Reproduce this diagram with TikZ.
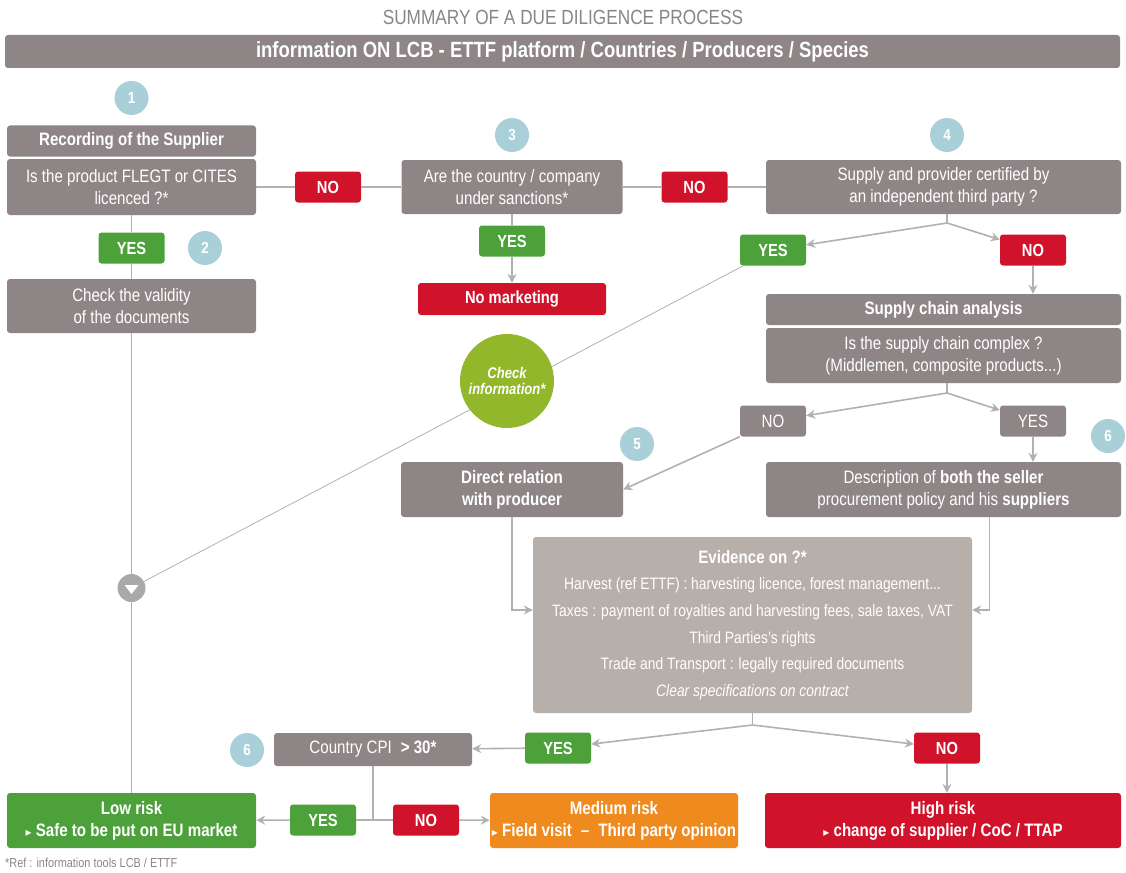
\documentclass[tikz,border=0pt]{standalone}
\usepackage{fontspec}
\setmainfont{Liberation Sans}[FakeStretch=0.84]
\newfontfamily\symfont{DejaVu Sans}
\usetikzlibrary{calc,arrows.meta}

\definecolor{boxgray}{HTML}{8E8686}
\definecolor{evidgray}{HTML}{B7AFAA}
\definecolor{nored}{HTML}{D0122A}
\definecolor{yesgreen}{HTML}{4CA13A}
\definecolor{medorange}{HTML}{EE8A1E}
\definecolor{checkgreen}{HTML}{93B72B}
\definecolor{numblue}{HTML}{A9CFD8}
\definecolor{linegray}{HTML}{B2B0B0}
\definecolor{titlegray}{HTML}{8A8585}
\definecolor{markgray}{HTML}{ABA8A8}

\tikzset{
	base/.style={rounded corners=3pt, text=white, align=center, inner sep=0pt, font=\fontsize{18}{22}\selectfont},
	graybox/.style={base, fill=boxgray},
	boldbox/.style={graybox, font=\fontsize{18}{22}\selectfont\bfseries},
	yesbox/.style={base, fill=yesgreen, minimum width=66, minimum height=31, font=\fontsize{17.5}{22}\selectfont\bfseries},
	nobox/.style={yesbox, fill=nored},
	riskbox/.style={base, minimum height=55, font=\fontsize{18}{22}\selectfont\bfseries},
	numcirc/.style={circle, fill=numblue, text=white, minimum size=34, inner sep=0pt, font=\fontsize{16}{16}\selectfont\bfseries},
	conn/.style={draw=linegray, line width=1.6pt},
	arr/.style={conn, -{Stealth[length=9pt, width=9pt, inset=3pt]}},
	thinline/.style={draw=linegray, line width=0.8pt}
}

\newcommand{\tri}{{\symfont\fontsize{12}{12}\selectfont ▸}}

\begin{document}
\begin{tikzpicture}[x=1pt, y=-1pt]
		%%%%% START %%%%%
		\useasboundingbox (0,0) rectangle (1126,872);
		
		\node[text=titlegray, font=\fontsize{20.5}{20.5}\selectfont] (title) at (563,17) {SUMMARY OF A DUE DILIGENCE PROCESS};
		\node[boldbox, minimum width=1115, minimum height=33, font=\fontsize{22}{22}\selectfont\bfseries] (info) at (562.5,51.5) {information ON LCB - ETTF platform / Countries / Producers / Species};
		
		% step 1 and 2
		\node[numcirc] (n1) at (131.5,98) {1};
		\node[boldbox, minimum width=249, minimum height=31] (rec) at (131.5,141) {Recording of the Supplier};
		\node[graybox, minimum width=249, minimum height=56] (q1) at (131.5,187) {Is the product FLEGT or CITES\\licenced ?*};
		\node[yesbox] (yes1) at (131.5,248) {YES};
		\node[numcirc] (n2) at (205,248) {2};
		\node[graybox, minimum width=249, minimum height=54] (val) at (131.5,306) {Check the validity\\of the documents};
		
		% step 3
		\node[nobox] (no1) at (328,187) {NO};
		\node[numcirc] (n3) at (512,135) {3};
		\node[graybox, minimum width=221, minimum height=54] (q3) at (512,187) {Are the country / company\\under sanctions*};
		\node[yesbox] (yes3) at (512,241) {YES};
		\node[nobox, minimum width=188, minimum height=32] (nomkt) at (512,299) {No marketing};
		
		% step 4
		\node[nobox] (no3) at (694.5,187) {NO};
		\node[numcirc] (n4) at (947,135) {4};
		\node[graybox, minimum width=355, minimum height=54] (q4) at (943.5,187) {Supply and provider certified by\\an independent third party ?};
		\node[yesbox] (yes4) at (773,250) {YES};
		\node[nobox] (no4) at (1033,250) {NO};
		\node[boldbox, minimum width=355, minimum height=31] (sca) at (943.5,309.5) {Supply chain analysis};
		\node[graybox, minimum width=355, minimum height=55] (q5) at (943.5,355.5) {Is the supply chain complex ?\\(Middlemen, composite products...)};
		
		% step 5 and 6
		\node[graybox, minimum width=66, minimum height=31] (no5) at (773,421) {NO};
		\node[graybox, minimum width=66, minimum height=31] (yes5) at (1033,421) {YES};
		\node[numcirc] (n5) at (637,444) {5};
		\node[numcirc] (n6a) at (1108,436) {6};
		\node[boldbox, minimum width=222, minimum height=55] (direct) at (512,489.5) {Direct relation\\with producer};
		\node[graybox, minimum width=355, minimum height=55] (desc) at (943.5,489.5) {Description of \textbf{both the seller}\\procurement policy and his \textbf{suppliers}};
		
		\node[base, fill=evidgray, minimum width=439, minimum height=176, font=\fontsize{16.5}{26.6}\selectfont] (evid) at (752.5,625) {{\fontsize{18}{26.6}\selectfont\bfseries Evidence on ?*}\\
			Harvest (ref ETTF) : harvesting licence, forest management...\\
			Taxes : payment of royalties and harvesting fees, sale taxes, VAT\\
			Third Parties's rights\\
			Trade and Transport : legally required documents\\
			{\itshape Clear specifications on contract}};
		
		% bottom
		\node[yesbox] (yes6) at (558,748) {YES};
		\node[nobox] (no6) at (947,748) {NO};
		\node[graybox, minimum width=198, minimum height=33] (cpi) at (373,749.5) {Country CPI\enspace\textbf{> 30*}};
		\node[numcirc] (n6b) at (247,750) {6};
		
		\node[riskbox, fill=yesgreen, minimum width=249] (low) at (131.5,820.5) {Low risk\\\tri\ Safe to be put on EU market};
		\node[yesbox] (yes7) at (323,820) {YES};
		\node[nobox] (no7) at (426,820) {NO};
		\node[riskbox, fill=medorange, minimum width=248] (med) at (614,820.5) {Medium risk\\\tri\ Field visit\enspace--\enspace Third party opinion};
		\node[riskbox, fill=nored, minimum width=356] (high) at (943,820.5) {High risk\\\tri\ change of supplier / CoC / TTAP};
		
		\node[anchor=west, text=titlegray, inner sep=0pt, font=\fontsize{13}{13}\selectfont] (ref) at (5,863) {*Ref : information tools LCB / ETTF};
		
		% marker
		\node[circle, fill=markgray, minimum size=28, inner sep=0pt] (mark) at (131.5,588) {};
		\fill[white] ($(mark)+(-7,-3)$) -- ($(mark)+(7,-3)$) -- ($(mark)+(0,6)$) -- cycle;
		
		% connectors
		\draw[conn] (q1) -- (no1) -- (q3);
		\draw[conn] (q3) -- (no3) -- (q4);
		\draw[conn] (q1) -- (yes1) -- (val) -- (mark) -- (low);
		\draw[arr] (q3) -- (yes3) -- (nomkt);
		
		\coordinate (b4) at (947,223);
		\draw[conn] (q4.south -| b4) -- (b4);
		\draw[arr] (b4) -- (yes4);
		\draw[arr] (b4) -- (no4);
		\draw[arr] (no4) -- (no4 |- sca.north);
		
		\draw[thinline] (yes4) -- (mark);
		\node[circle, fill=checkgreen, minimum size=94, inner sep=0pt, text=white, align=center, font=\fontsize{15.5}{16}\selectfont\bfseries\itshape] (chk) at (507,381) {Check\\information*};
		
		\coordinate (b5) at (947,393);
		\draw[conn] (q5.south -| b5) -- (b5);
		\draw[arr] (b5) -- (no5);
		\draw[arr] (b5) -- (yes5);
		\draw[arr] (no5.south west) -- (direct.east);
		\draw[arr] (yes5) -- (yes5 |- desc.north);
		
		\draw[arr] (direct) |- ($(evid.west)+(0,-15)$);
		\draw[arr] ($(desc.south)+(46,0)$) |- ($(evid.east)+(0,-15)$);
		
		\coordinate (b6) at (752.5,725);
		\draw[conn] (evid) -- (b6);
		\draw[arr] (b6) -- (yes6);
		\draw[arr] (b6) -- (no6);
		\draw[arr] (yes6) -- (cpi);
		\draw[arr] (no6) -- (no6 |- high.north);
		
		\coordinate (j) at (373,820);
		\draw[conn] (cpi) -- (j);
		\draw[arr] (j) -- (yes7) -- (low);
		\draw[arr] (j) -- (no7) -- (med);
		
		%%%%% END %%%%%
\end{tikzpicture}
\end{document}
